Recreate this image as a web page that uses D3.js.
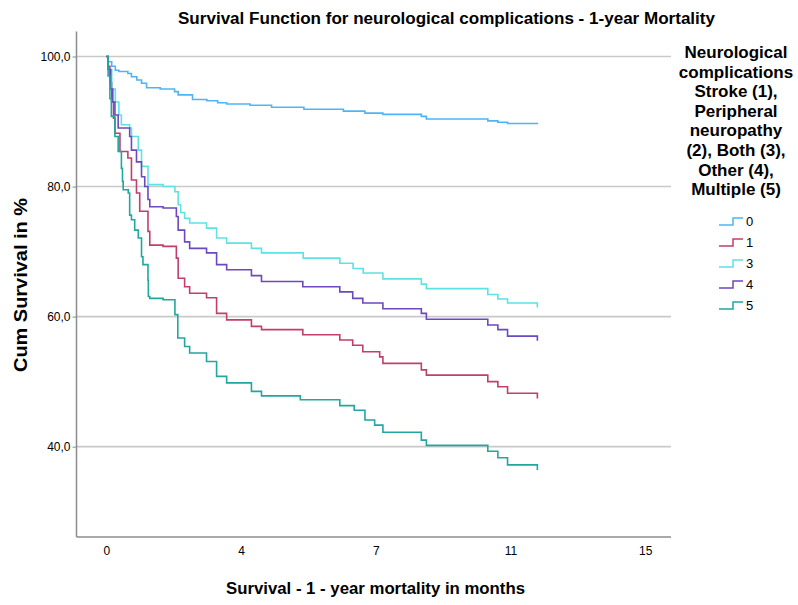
<!DOCTYPE html>
<html>
<head>
<meta charset="utf-8">
<script src="https://cdnjs.cloudflare.com/ajax/libs/d3/7.8.5/d3.min.js"></script>
<style>
  body { margin: 0; background: #fff; }
  text { font-family: Arial, "Liberation Sans", sans-serif; fill: #000; }
</style>
</head>
<body>
<div id="chart"></div>
<script>
// Kaplan-Meier steps: [months, cumulative survival %]
const group0 = [[0,100],[0.05,99.2],[0.15,98.5],[0.25,97.9],[0.35,97.7],[0.6,97.4],[0.7,96.9],[0.85,96.4],[0.98,95.9],[1.12,95.2],[1.5,95.0],[1.9,94.6],[2.0,94.1],[2.4,93.4],[2.8,93.2],[3.1,92.9],[3.35,92.7],[4.0,92.5],[4.6,92.2],[5.5,91.9],[6.6,91.6],[7.2,91.3],[7.7,91.1],[8.77,90.8],[8.91,90.4],[10.62,90.1],[10.9,89.9],[11.17,89.7],[12,89.6]];
const group1 = [[0,100],[0.05,98.5],[0.1,96],[0.15,93],[0.2,90.5],[0.24,88.2],[0.38,85.4],[0.6,84.4],[0.7,81.0],[0.84,79.0],[0.93,76.2],[1.16,73.1],[1.21,71.0],[1.58,70.8],[1.95,69.0],[2.0,65.9],[2.18,64.6],[2.32,63.6],[2.79,62.9],[3.07,60.5],[3.35,59.5],[4.04,58.5],[4.32,58.0],[5.47,57.2],[6.5,56.4],[6.86,55.6],[7.14,54.6],[7.61,53.8],[7.7,52.8],[8.77,51.8],[8.91,51.0],[10.62,50.0],[10.9,49.2],[11.17,48.2],[12,47.4]];
const group3 = [[0,100],[0.05,98],[0.15,95],[0.25,93],[0.35,91],[0.42,89.5],[0.65,89.0],[0.7,87.7],[0.89,85.6],[0.98,83.1],[1.16,80.3],[1.58,80.0],[1.91,79.2],[2.0,77.2],[2.07,76.0],[2.18,75.1],[2.32,74.4],[2.79,73.6],[3.07,72.1],[3.35,71.3],[4.04,70.5],[4.32,69.8],[5.48,69.0],[6.5,68.2],[6.87,67.4],[7.15,66.7],[7.7,65.8],[8.77,65.0],[8.91,64.3],[10.62,63.4],[10.9,62.7],[11.17,62.1],[12,61.4]];
const group4 = [[0,100],[0.05,98],[0.12,95],[0.18,93],[0.24,91.0],[0.33,89.0],[0.65,87.7],[0.7,85.6],[0.84,83.8],[0.98,81.5],[1.07,80.0],[1.16,78.0],[1.21,76.9],[1.58,76.7],[1.95,75.4],[2.0,73.3],[2.18,71.5],[2.32,70.5],[2.79,69.8],[3.07,68.0],[3.35,67.2],[4.04,66.3],[4.32,65.4],[5.47,64.6],[6.5,63.8],[6.86,62.8],[7.14,62.1],[7.7,61.2],[8.77,60.5],[8.91,59.6],[10.62,58.7],[10.9,58.0],[11.17,57.0],[12,56.3]];
const group5 = [[0,100],[0.05,97],[0.1,93.5],[0.14,90.8],[0.24,87.7],[0.33,85.4],[0.42,82.8],[0.45,80.8],[0.47,79.5],[0.61,79.0],[0.65,75.6],[0.7,74.9],[0.79,73.3],[0.89,72.1],[0.98,69.2],[1.02,68.0],[1.16,65.6],[1.17,63.1],[1.21,62.8],[1.58,62.6],[1.91,60.3],[1.99,56.7],[2.18,55.4],[2.32,54.4],[2.79,53.1],[3.07,50.8],[3.35,49.8],[4.04,48.5],[4.32,47.8],[5.4,47.2],[6.5,46.3],[6.9,45.6],[7.2,44.1],[7.47,43.3],[7.7,42.2],[8.77,41.0],[8.91,40.2],[10.62,39.3],[10.9,38.3],[11.17,37.2],[12,36.4]];

const groupNames = ["0", "1", "3", "4", "5"];
const groupData = [group0, group1, group3, group4, group5];
const groupColors = ["#4fb4f5", "#c13f6d", "#5fe2e2", "#6c48c1", "#22a79f"];

const xTickValues = [0, 3.75, 7.5, 11.25, 15];
const xTickLabels = ["0", "4", "7", "11", "15"];
const yTickValues = [40, 60, 80, 100];

const legendTitle = ["Neurological", "complications", "Stroke (1),", "Peripheral", "neuropathy", "(2), Both (3),", "Other (4),", "Multiple (5)"];

const W = 798, H = 605;
const plot = {left: 76.5, right: 671, top: 31.5, bottom: 537};

const svg = d3.select("#chart").append("svg")
  .attr("width", W)
  .attr("height", H);

const x = d3.scaleLinear()
  .domain([-0.83, 15.72])
  .range([plot.left, plot.right]);

const y = d3.scaleLinear()
  .domain([26.1, 103.85])
  .range([plot.bottom, plot.top]);

// gridlines
svg.append("g")
  .selectAll("line")
  .data(yTickValues)
  .join("line")
  .attr("x1", plot.left)
  .attr("x2", plot.right)
  .attr("y1", d => y(d))
  .attr("y2", d => y(d))
  .attr("stroke", "#c9c9c9")
  .attr("stroke-width", 1.6);

// y axis
const yAxis = svg.append("g")
  .attr("transform", `translate(${plot.left},0)`)
  .call(d3.axisLeft(y).tickValues(yTickValues).tickSize(4).tickSizeOuter(0)
    .tickFormat(d => d3.format(".1f")(d).replace(".", ",")));
yAxis.select(".domain").attr("stroke", "#8c8c8c").attr("stroke-width", 1.5)
  .attr("d", `M0,${plot.top}V${plot.bottom}`);
yAxis.selectAll(".tick line").attr("stroke", "#8c8c8c");
yAxis.selectAll(".tick text")
  .attr("x", -6)
  .style("font-size", "12px")
  .style("font-family", "Arial, 'Liberation Sans', sans-serif");

// x axis
const xAxis = svg.append("g")
  .attr("transform", `translate(0,${plot.bottom})`)
  .call(d3.axisBottom(x).tickValues(xTickValues).tickSize(0).tickSizeOuter(0)
    .tickFormat((d, i) => xTickLabels[i]));
xAxis.select(".domain").attr("stroke", "#8c8c8c").attr("stroke-width", 1.5)
  .attr("d", `M${plot.left},0H${plot.right}`);
xAxis.selectAll(".tick text")
  .attr("y", 9)
  .style("font-size", "12px")
  .style("font-family", "Arial, 'Liberation Sans', sans-serif");

// survival curves
const line = d3.line()
  .x(d => x(d[0]))
  .y(d => y(d[1]))
  .curve(d3.curveStepAfter);

svg.append("g")
  .selectAll("path")
  .data(groupData)
  .join("path")
  .attr("d", d => line(d))
  .attr("fill", "none")
  .attr("stroke", (d, i) => groupColors[i])
  .attr("stroke-width", 1.6);

// titles
svg.append("text")
  .attr("x", 446.5)
  .attr("y", 24)
  .attr("text-anchor", "middle")
  .style("font-size", "16px")
  .style("font-weight", "bold")
  .attr("textLength", 537)
  .attr("lengthAdjust", "spacingAndGlyphs")
  .text("Survival Function for neurological complications - 1-year Mortality");

svg.append("text")
  .attr("x", 375.5)
  .attr("y", 594)
  .attr("text-anchor", "middle")
  .style("font-size", "17px")
  .style("font-weight", "bold")
  .attr("textLength", 299)
  .attr("lengthAdjust", "spacingAndGlyphs")
  .text("Survival - 1 - year mortality in months");

svg.append("text")
  .attr("transform", "translate(27,285) rotate(-90)")
  .attr("text-anchor", "middle")
  .style("font-size", "18px")
  .style("font-weight", "bold")
  .attr("textLength", 174)
  .attr("lengthAdjust", "spacingAndGlyphs")
  .text("Cum Survival in %");

// legend
const legend = svg.append("g");
legend.selectAll("text.title")
  .data(legendTitle)
  .join("text")
  .attr("class", "title")
  .attr("x", 736)
  .attr("y", (d, i) => 58 + i * 19.6)
  .attr("text-anchor", "middle")
  .style("font-size", "17px")
  .style("font-weight", "bold")
  .text(d => d);

const item = legend.selectAll("g.item")
  .data(groupNames)
  .join("g")
  .attr("class", "item")
  .attr("transform", (d, i) => `translate(0,${221 + i * 21})`);

item.append("path")
  .attr("d", "M719,4H733V-3H743")
  .attr("fill", "none")
  .attr("stroke", (d, i) => groupColors[i])
  .attr("stroke-width", 1.5);

item.append("text")
  .attr("x", 746)
  .attr("y", 5)
  .style("font-size", "13px")
  .text(d => d);
</script>
</body>
</html>
